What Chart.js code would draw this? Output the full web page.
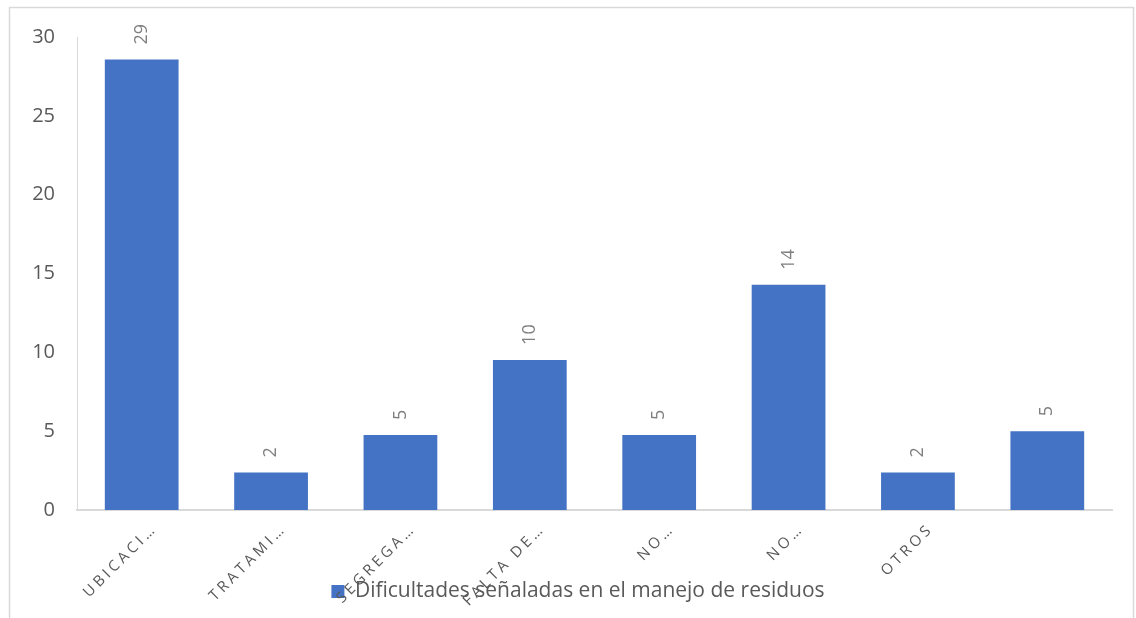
<!DOCTYPE html>
<html lang="es">
<head>
<meta charset="utf-8">
<title>Dificultades señaladas en el manejo de residuos</title>
<script src="https://cdn.jsdelivr.net/npm/chart.js@4.4.1/dist/chart.umd.min.js"></script>
<style>
  html, body { margin: 0; padding: 0; background: #fff; }
  canvas { display: block; }
</style>
</head>
<body>
<canvas id="residuosChart" width="1136" height="618"></canvas>
<script>
const categories = ['UBICACI…', 'TRATAMI…', 'SEGREGA…', 'FALTA DE…', 'NO…', 'NO…', 'OTROS', ''];
const values = [28.57, 2.38, 4.76, 9.52, 4.76, 14.29, 2.38, 5];
const seriesName = 'Dificultades señaladas en el manejo de residuos';
const yTicks = [0, 5, 10, 15, 20, 25, 30];

const FONT = "'Open Sans', sans-serif";

// light frame round the chart, like the Excel chart area
const chartFrame = {
  id: 'chartFrame',
  beforeDraw(chart) {
    const ctx = chart.ctx;
    ctx.save();
    ctx.fillStyle = '#fff';
    ctx.fillRect(0, 0, chart.width, chart.height);
    ctx.strokeStyle = '#d9d9d9';
    ctx.lineWidth = 1.5;
    ctx.strokeRect(9.5, 7.5, 1124, 640);
    ctx.restore();

    // labels may spill out of their scale box (Excel lets them overlap the legend)
    ['x', 'y'].forEach((id) => {
      const s = chart.scales[id];
      if (s) s._computeLabelArea = () => undefined;
    });

    // spaced out category labels
    const xScale = chart.scales.x;
    if (xScale && !xScale._spaced) {
      const orig = xScale.drawLabels;
      xScale.drawLabels = function (area) {
        this.ctx.save();
        this.ctx.letterSpacing = '3.5px';
        orig.call(this, area);
        this.ctx.restore();
      };
      xScale._spaced = true;
    }
  }
};

// rotated value labels above the bars
const valueLabels = {
  id: 'valueLabels',
  afterDatasetsDraw(chart) {
    const ctx = chart.ctx;
    const meta = chart.getDatasetMeta(0);
    ctx.save();
    ctx.font = `18px ${FONT}`;
    ctx.fillStyle = '#7f7f7f';
    ctx.textAlign = 'left';
    ctx.textBaseline = 'middle';
    meta.data.forEach((bar, i) => {
      ctx.save();
      ctx.translate(bar.x, bar.y - 15);
      ctx.rotate(-Math.PI / 2);
      ctx.fillText(String(Math.round(values[i])), 0, 0);
      ctx.restore();
    });
    ctx.restore();
  }
};

new Chart(document.getElementById('residuosChart'), {
  type: 'bar',
  data: {
    labels: categories,
    datasets: [{
      label: seriesName,
      data: values,
      backgroundColor: '#4472c4',
      borderWidth: 0,
      categoryPercentage: 1,
      barPercentage: 0.57,
    }],
  },
  options: {
    responsive: false,
    animation: false,
    layout: {
      padding: { left: 44, right: 24, top: 37, bottom: 6 },
    },
    scales: {
      x: {
        grid: { display: false, drawTicks: false, tickLength: 0 },
        border: { display: true, color: '#d9d9d9', width: 2 },
        ticks: {
          autoSkip: false,
          minRotation: 45,
          maxRotation: 45,
          labelOffset: 13,
          padding: 10,
          color: '#595959',
          font: { family: FONT, size: 15 },
        },
        afterFit(scale) { scale.height = 61; },
      },
      y: {
        min: 0,
        max: 30,
        grid: { display: false, drawTicks: false, tickLength: 0 },
        border: { display: true, color: '#d9d9d9', width: 1 },
        ticks: {
          padding: 22,
          color: '#595959',
          font: { family: FONT, size: 20 },
        },
        afterBuildTicks(scale) {
          scale.ticks = yTicks.map((v) => ({ value: v }));
        },
        afterFit(scale) { scale.width = 33; },
      },
    },
    plugins: {
      legend: {
        position: 'bottom',
        labels: {
          boxWidth: 13,
          boxHeight: 13,
          padding: 10,
          color: '#595959',
          font: { family: FONT, size: 21 },
        },
      },
      tooltip: { enabled: false },
    },
  },
  plugins: [chartFrame, valueLabels],
});
</script>
</body>
</html>
